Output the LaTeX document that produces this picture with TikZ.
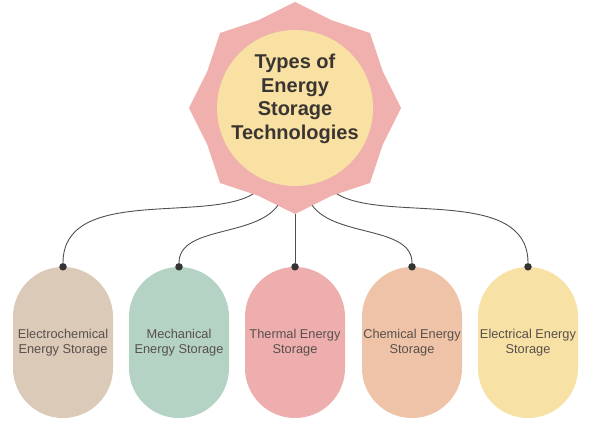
\documentclass[tikz,border=0pt]{standalone}
\usepackage{fontspec}
\setmainfont{Liberation Sans}
\usetikzlibrary{shapes.geometric}
\definecolor{starpink}{RGB}{239,176,174}
\definecolor{coreyellow}{RGB}{248,225,162}
\definecolor{pilltan}{RGB}{219,202,184}
\definecolor{pillsage}{RGB}{180,211,197}
\definecolor{pillpink}{RGB}{238,174,174}
\definecolor{pillpeach}{RGB}{239,195,167}
\definecolor{pillyellow}{RGB}{247,225,165}
\definecolor{titletext}{RGB}{58,53,50}
\definecolor{pilltext}{RGB}{88,80,76}
\definecolor{linkgray}{RGB}{80,80,80}
\definecolor{dotgray}{RGB}{51,51,51}
\begin{document}
\begin{tikzpicture}[
        x=1pt, y=1pt,
        pill/.style={rectangle, rounded corners=49.9pt, minimum width=100pt,
        minimum height=151pt, inner sep=0pt, align=center, text=pilltext,
        font=\fontsize{12.8}{14.5}\selectfont},
        link/.style={draw=linkgray, line width=0.9pt},
        dot/.style={circle, fill=dotgray, inner sep=0pt, minimum size=7.5pt}
        ]
        \useasboundingbox (0,0) rectangle (600,436);
        % Star
        \node[star, star points=8, star point ratio=1.115, minimum size=212pt,
            inner sep=0pt, outer sep=0pt, fill=starpink] (star) at (295,328) {};
        \node[circle, minimum size=156pt, inner sep=0pt, fill=coreyellow]
            (core) at (295,328) {};
        \node[align=center, text=titletext,
            font=\fontsize{20}{23.5}\selectfont\bfseries] (title) at (295,337)
            {Types of\\Energy\\Storage\\Technologies};
        % Pills
        \node[pill, fill=pilltan] (electrochem) at (63,93.5)
            {Electrochemical\\Energy Storage};
        \node[pill, fill=pillsage] (mechanical) at (179,93.5)
            {Mechanical\\Energy Storage};
        \node[pill, fill=pillpink] (thermal) at (295,93.5)
            {Thermal Energy\\Storage};
        \node[pill, fill=pillpeach] (chemical) at (412,93.5)
            {Chemical Energy\\Storage};
        \node[pill, fill=pillyellow] (electrical) at (528,93.5)
            {Electrical Energy\\Storage};
        % Dots
        \node[dot] (d1) at (electrochem.north) {};
        \node[dot] (d2) at (mechanical.north) {};
        \node[dot] (d3) at (thermal.north) {};
        \node[dot] (d4) at (chemical.north) {};
        \node[dot] (d5) at (electrical.north) {};
        % Links
        \draw[link] (star.244) .. controls +(-48,-29) and +(0,81) .. (d1);
        \draw[link] (star.260) .. controls +(-23,-32) and +(0,41) .. (d2);
        \draw[link] (star.270) -- (d3);
        \draw[link] (star.280) .. controls +(23,-32) and +(0,41) .. (d4);
        \draw[link] (star.296) .. controls +(48,-29) and +(0,81) .. (d5);
\end{tikzpicture}
\end{document}
